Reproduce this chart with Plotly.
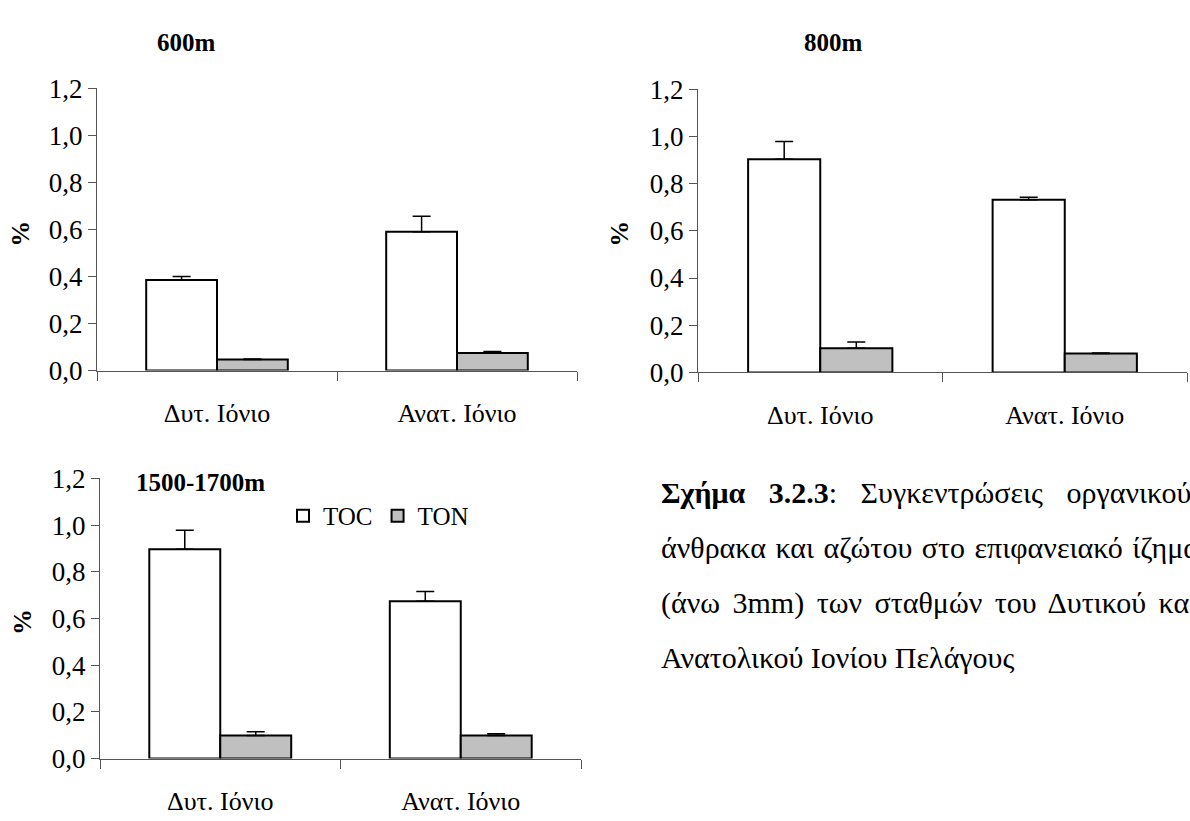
import plotly.graph_objects as go

# Sampling regions and depth classes
categories = ["Δυτ. Ιόνιο", "Ανατ. Ιόνιο"]
depth_titles = ["600m", "800m", "1500-1700m"]

# Total organic carbon (%) and its standard error, per depth class
toc_600 = [0.385, 0.590]
toc_600_err = [0.015, 0.066]
toc_800 = [0.903, 0.732]
toc_800_err = [0.075, 0.010]
toc_1500 = [0.896, 0.674]
toc_1500_err = [0.082, 0.041]

# Total organic nitrogen (%) and its standard error, per depth class
ton_600 = [0.047, 0.074]
ton_600_err = [0.002, 0.007]
ton_800 = [0.103, 0.080]
ton_800_err = [0.026, 0.002]
ton_1500 = [0.098, 0.098]
ton_1500_err = [0.017, 0.008]

y_ticks = [0.0, 0.2, 0.4, 0.6, 0.8, 1.0, 1.2]

W, H = 1190, 821
FONT = "Liberation Serif, Times New Roman, Tinos, DejaVu Serif, serif"
AXIS_COLOR = "#555555"
CHART_FS = 26
CAPTION_FS = 30


def px_x(x):
    return x / W


def px_y(y):
    return 1 - y / H


# plot areas in pixels: (left, right, y of 0.0, y of 1.2)
panels = [
    (97, 577, 369, 76),
    (698, 1187, 371, 77),
    (100, 581, 771.7, 481),
]

series = [
    (toc_600, toc_600_err, ton_600, ton_600_err),
    (toc_800, toc_800_err, ton_800, ton_800_err),
    (toc_1500, toc_1500_err, ton_1500, ton_1500_err),
]

fig = go.Figure()

for i, ((toc, toc_e, ton, ton_e), (l, r, y0, y1)) in enumerate(zip(series, panels)):
    n = "" if i == 0 else str(i + 1)
    xa, ya = "x" + n, "y" + n
    fig.add_trace(go.Bar(
        x=categories, y=toc, name="TOC", xaxis=xa, yaxis=ya,
        marker=dict(color="white", line=dict(color="black", width=2)),
        error_y=dict(type="data", array=toc_e, arrayminus=[0] * len(toc_e),
                     symmetric=False, color="black", thickness=1.5, width=9),
        showlegend=(i == 2),
    ))
    fig.add_trace(go.Bar(
        x=categories, y=ton, name="TON", xaxis=xa, yaxis=ya,
        marker=dict(color="#c0c0c0", line=dict(color="black", width=2)),
        error_y=dict(type="data", array=ton_e, arrayminus=[0] * len(ton_e),
                     symmetric=False, color="black", thickness=1.5, width=9),
        showlegend=(i == 2),
    ))
    fig.update_layout(**{
        "xaxis" + n: dict(
            domain=[px_x(l), px_x(r)], anchor=ya, range=[-0.5, 1.5],
            showline=True, linecolor=AXIS_COLOR, linewidth=1,
            ticks="outside", tickson="boundaries", ticklen=9,
            tickcolor=AXIS_COLOR, tickwidth=1,
            tickfont=dict(family=FONT, size=CHART_FS, color="black"),
            ticklabelstandoff=19,
            showgrid=False, zeroline=False, fixedrange=True,
        ),
        "yaxis" + n: dict(
            domain=[px_y(y0), px_y(y1)], anchor=xa, range=[0, 1.2],
            tickvals=y_ticks, tickformat=".1f",
            showline=True, linecolor=AXIS_COLOR, linewidth=1,
            ticks="outside", ticklen=8, tickcolor=AXIS_COLOR, tickwidth=1,
            tickfont=dict(family=FONT, size=CHART_FS + 1, color="black"),
            showgrid=False, zeroline=False, fixedrange=True,
        ),
    })

annotations = []

# Depth titles
for text, (x, y) in zip(depth_titles, [(186, 29), (833, 29), (200, 485)]):
    annotations.append(dict(
        text=f"<b>{text}</b>", x=px_x(x), y=px_y(y), xref="paper", yref="paper",
        showarrow=False, xanchor="center", yanchor="middle",
        font=dict(family=FONT, size=CHART_FS - 1, color="black"),
    ))

# Y-axis titles
for (x, y) in [(21, 227), (620, 227), (23, 630)]:
    annotations.append(dict(
        text="<b>%</b>", x=px_x(x), y=px_y(y), xref="paper", yref="paper",
        showarrow=False, xanchor="center", yanchor="middle", textangle=-90,
        font=dict(family=FONT, size=CHART_FS, color="black"),
    ))

# Figure caption: a justified paragraph, each line stretched by its own word spacing
caption_lines = [
    ("<b>Σχήμα</b> <b>3.2.3</b>: Συγκεντρώσεις οργανικού", 496, 16),
    ("άνθρακα και αζώτου στο επιφανειακό ίζημα", 553, 2),
    ("(άνω 3mm) των σταθμών του Δυτικού και", 610, 5),
    ("Ανατολικού Ιονίου Πελάγους", 667, 0),
]
for text, y, spacing in caption_lines:
    annotations.append(dict(
        text=f'<span style="word-spacing:{spacing}px">{text}</span>',
        x=px_x(659), y=px_y(y), xref="paper", yref="paper",
        showarrow=False, xanchor="left", yanchor="middle",
        font=dict(family=FONT, size=CAPTION_FS, color="black"),
    ))

fig.update_layout(
    width=W, height=H,
    margin=dict(l=0, r=0, t=0, b=0),
    paper_bgcolor="white", plot_bgcolor="white",
    barmode="group", bargap=0.41, bargroupgap=0,
    separators=",.",
    annotations=annotations,
    legend=dict(
        orientation="h", x=px_x(283), y=px_y(520), xanchor="left", yanchor="middle",
        font=dict(family=FONT, size=CHART_FS - 1, color="black"),
        bgcolor="rgba(0,0,0,0)", itemwidth=30, tracegroupgap=0,
    ),
    font=dict(family=FONT, color="black"),
)

fig.write_html("out.html")
